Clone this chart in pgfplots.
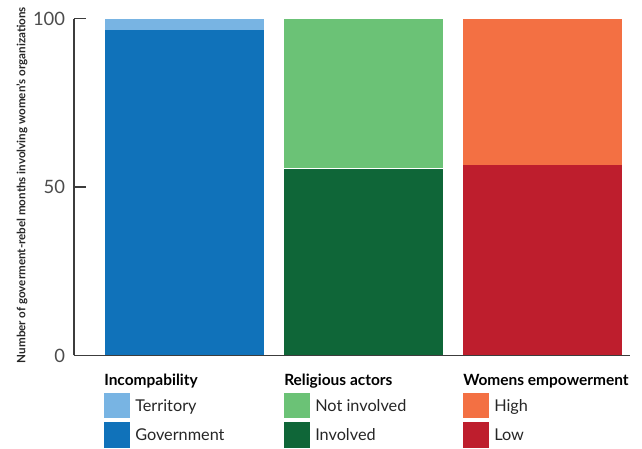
\documentclass[border=0pt]{standalone}
\usepackage{fontspec}
\setmainfont{Lato}
\usepackage{pgfplots}
\pgfplotsset{compat=1.18}

\definecolor{TerrColor}{HTML}{78B4E3}
\definecolor{GovColor}{HTML}{1072BA}
\definecolor{NotInvColor}{HTML}{6BC276}
\definecolor{InvColor}{HTML}{0F6638}
\definecolor{HighColor}{HTML}{F37043}
\definecolor{LowColor}{HTML}{BE1E2D}
\definecolor{AxisGray}{HTML}{3C3C3C}

\begin{document}
\begin{tikzpicture}
\begin{axis}[
    name=ax,
    scale only axis,
    width=417pt, height=252.6pt,
    ybar stacked,
    bar width=119.25pt,
    xmin=-0.6173, xmax=2.4888,
    ymin=0, ymax=100,
    axis x line=bottom, axis y line=left,
    axis line style={-, draw=AxisGray, line width=1pt},
    xtick=\empty,
    ytick={0,50,100},
    tick align=inside,
    major tick length=8.7pt,
    tick style={draw=AxisGray, line width=0.9pt},
    yticklabel style={font=\fontsize{13.8}{16}\selectfont, text=black!70, inner sep=0pt, xshift=-6.5pt},
    /pgf/number format/assume math mode=true,
    ylabel={Number of goverment-rebel months involving women's organizations},
    every axis y label/.style={at={(axis description cs:-0.0935,0.506)}, rotate=90, anchor=center,
        font=\bfseries\fontsize{8.7}{10}\selectfont, text=black!85},
    clip=false,
]
% Incompability
\addplot[draw=none, fill=GovColor]    coordinates {(0,96.5) (1,0) (2,0)};
\addplot[draw=none, fill=TerrColor]   coordinates {(0,3.5) (1,0) (2,0)};
% Religious actors
\addplot[draw=none, fill=InvColor]    coordinates {(0,0) (1,55.5) (2,0)};
\addplot[draw=none, fill=white]       coordinates {(0,0) (1,0.3) (2,0)};
\addplot[draw=none, fill=NotInvColor] coordinates {(0,0) (1,44.2) (2,0)};
% Womens empowerment
\addplot[draw=none, fill=LowColor]    coordinates {(0,0) (1,0) (2,56.6)};
\addplot[draw=none, fill=HighColor]   coordinates {(0,0) (1,0) (2,43.4)};
\end{axis}

% legend, positions in pixels from the axis corner
\begin{scope}[shift={(ax.south west)}, x=0.75pt, y=-0.75pt]
  \path[use as bounding box] (-74,-355.5) rectangle (568,93.5);
  \foreach \x/\title/\ca/\la/\cb/\lb in {
      30/Incompability/TerrColor/Territory/GovColor/Government,
      210/Religious actors/NotInvColor/Not involved/InvColor/Involved,
      389/Womens empowerment/HighColor/High/LowColor/Low} {
    \node[anchor=base west, inner sep=0pt, font=\bfseries\fontsize{11.6}{14}\selectfont]
      at (\x,30.2) {\title};
    \fill[\ca] (\x,37.8) rectangle (\x+26,62.8);
    \fill[\cb] (\x,66.2) rectangle (\x+26,92.2);
    \node[anchor=base west, inner sep=0pt, font=\fontsize{12.2}{14}\selectfont, text=black!85]
      at (\x+31,56.2) {\la};
    \node[anchor=base west, inner sep=0pt, font=\fontsize{12.2}{14}\selectfont, text=black!85]
      at (\x+31,85) {\lb};
  }
\end{scope}
\end{tikzpicture}
\end{document}
